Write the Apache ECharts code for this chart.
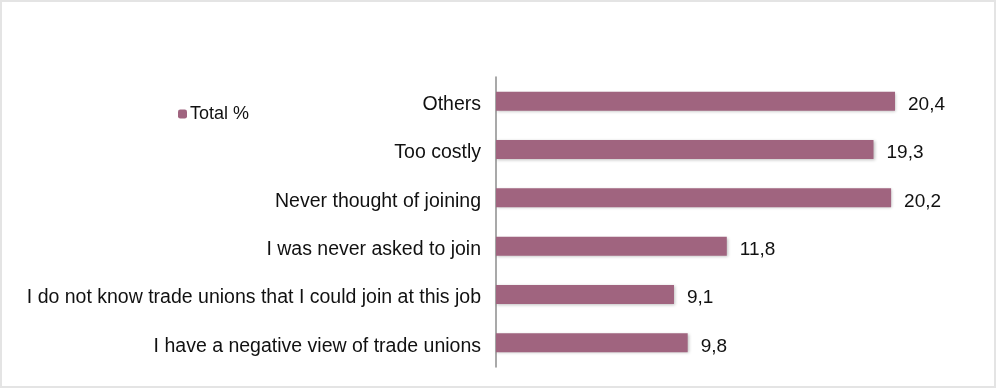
<!DOCTYPE html>
<html>
<head>
<meta charset="utf-8">
<script src="https://cdn.jsdelivr.net/npm/echarts@6/dist/echarts.min.js"></script>
<style>
  html, body { margin: 0; padding: 0; background: #fff; }
  #frame { position: absolute; left: 0; top: 0; width: 992px; height: 384px; border: 2px solid #e4e4e4; box-sizing: content-box; }
  #chart { width: 996px; height: 388px; position: absolute; left: 0; top: 0; }
</style>
</head>
<body>
<div id="frame"></div>
<div id="chart"></div>
<script>
// Reasons for not joining a trade union (top to bottom as displayed)
const categories = [
  'Others',
  'Too costly',
  'Never thought of joining',
  'I was never asked to join',
  'I do not know trade unions that I could join at this job',
  'I have a negative view of trade unions'
];
const totalPct = [20.4, 19.3, 20.2, 11.8, 9.1, 9.8];
const seriesName = 'Total %';

const chart = echarts.init(document.getElementById('chart'));
chart.setOption({
  animation: false,
  textStyle: { fontFamily: 'Liberation Sans, Arial, sans-serif' },
  legend: {
    left: 173, top: 100,
    itemWidth: 9, itemHeight: 9, itemGap: 4,
    textStyle: { fontSize: 18, color: '#111', padding: [4, 0, 0, -2] },
    data: [seriesName]
  },
  grid: { left: 496, top: 77, width: 489, height: 290, containLabel: false },
  xAxis: {
    type: 'value', min: 0, max: 25,
    show: false
  },
  yAxis: {
    type: 'category',
    inverse: true,
    data: categories,
    axisLine: { show: true, lineStyle: { color: '#8c8c8c', width: 1.5 } },
    axisTick: { show: false },
    // labels sit slightly below the bar centre line
    axisLabel: { fontSize: 19.5, color: '#111', margin: 15, verticalAlign: 'top', lineHeight: 7 }
  },
  series: [{
    name: seriesName,
    type: 'bar',
    data: totalPct,
    barWidth: 19,
    itemStyle: {
      color: '#a0647f',
      shadowColor: 'rgba(0,0,0,0.25)', shadowBlur: 3, shadowOffsetX: 1, shadowOffsetY: 1
    },
    label: {
      show: true, position: 'right', distance: 13,
      fontSize: 19, color: '#111', verticalAlign: 'top', lineHeight: 7,
      formatter: p => String(p.value).replace('.', ',')
    }
  }]
});
</script>
</body>
</html>
